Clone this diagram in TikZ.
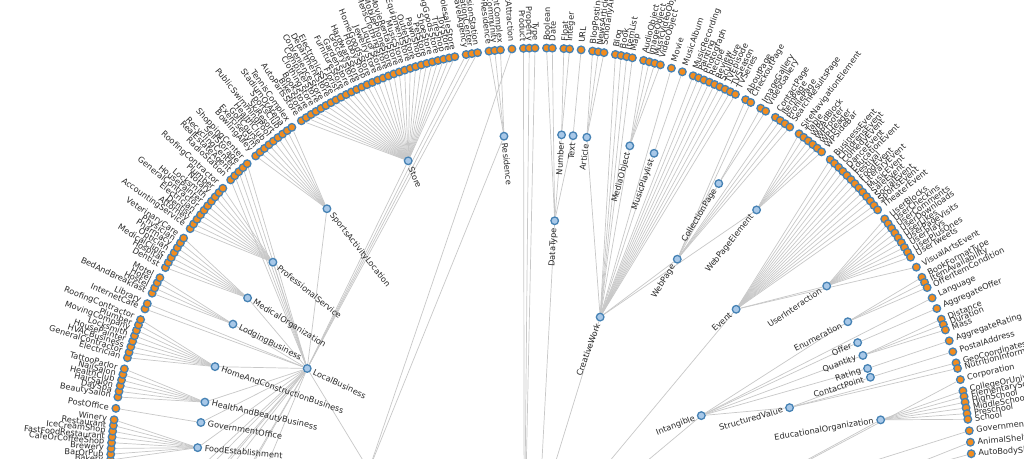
\documentclass[tikz,border=0pt]{standalone}
\usepackage{fontspec}
\setmainfont{DejaVu Sans}
\usetikzlibrary{calc}
\pgfdeclarelayer{back}
\pgfdeclarelayer{bg}
\pgfsetlayers{back,bg,main}
\definecolor{leafc}{HTML}{F28C1E}
\definecolor{strokec}{HTML}{4682B4}
\definecolor{innerc}{HTML}{A8C8E8}
\definecolor{linkc}{HTML}{C8C8C8}
\definecolor{txtc}{HTML}{2A2A2A}
\def\uu{0.767}
\def\az{177.469}
\tikzset{
  leafdot/.style={circle,fill=leafc,draw=strokec,line width=1.3pt,minimum size=7.6pt,inner sep=0pt},
  innerdot/.style={circle,fill=innerc,draw=strokec,line width=1.3pt,minimum size=7.6pt,inner sep=0pt},
  lbl/.style={font=\fontsize{8.2}{9}\selectfont,text=txtc,inner sep=0pt},
  link/.style={draw=linkc,line width=0.7pt},
}
\newcommand\leafat[3]{%
  \pgfmathsetmacro\myang{\az-\uu*#1}%
  \pgfmathsetmacro\myrot{\myang-180}%
  \node[leafdot] (L#1) at (\myang:431) {};%
  \ifdim\myang pt>90pt
    \node[lbl,anchor=east,rotate=\myrot] (T#1) at (\myang:438) {#2};%
  \else
    \node[lbl,anchor=west,rotate=\myang] (T#1) at (\myang:438) {#2};%
  \fi
  \begin{pgfonlayer}{bg}\draw[link] (#3) -- (L#1);\end{pgfonlayer}%
}
\newcommand\leafgroup[3]{\foreach \lab [count=\kk from #1] in {#3} {\leafat{\kk}{\lab}{#2}}}
\newcommand\innode[4]{%
  \pgfmathsetmacro\myang{\az-\uu*#2}%
  \pgfmathsetmacro\myrot{\myang-180}%
  \pgfmathsetmacro\myrr{#3-7}%
  \node[innerdot] (#1) at (\myang:#3) {};%
  \ifdim\myang pt>90pt
    \node[lbl,anchor=west,rotate=\myrot] (#1-t) at (\myang:\myrr) {#4};%
  \else
    \node[lbl,anchor=east,rotate=\myang] (#1-t) at (\myang:\myrr) {#4};%
  \fi
}
\begin{document}
\begin{tikzpicture}[x=1pt,y=1pt]
\useasboundingbox (0,0) rectangle (1024,458);
\begin{pgfonlayer}{back}\fill[white] (0,0) rectangle (1024,458);\end{pgfonlayer}
\clip (0,0) rectangle (1024,458);
\begin{scope}[shift={(541,-21)}]
% off-picture ancestors
\coordinate (root) at (0,0);
\coordinate (thing) at (-101.2:86.2);
\coordinate (place) at (177:172.4);
\coordinate (org) at (-11.2:172.4);
\coordinate (lbtwo) at (-7.1:258.6);
\coordinate (auto) at (0.29:344.8);
\foreach \kq/\rq [count=\i] in {-3.5/344.8,-10/344.8,-15/431,-18/344.8,-21/431,-22/431,-28/344.8,-34/431}
  {\coordinate (lbx\i) at ({\az-\uu*(\kq)}:\rq);}
% inner nodes
\innode{food}{3.5}{344.8}{FoodEstablishment}
\innode{govoff}{9}{344.8}{GovernmentOffice}
\innode{health}{13.5}{344.8}{HealthAndBeautyBusiness}
\innode{home}{21.5}{344.8}{HomeAndConstructionBusiness}
\innode{lodging}{31.5}{344.8}{LodgingBusiness}
\innode{medical}{38}{344.8}{MedicalOrganization}
\innode{prof}{47.5}{344.8}{ProfessionalService}
\innode{sports}{64}{344.8}{SportsActivityLocation}
\innode{store}{84.5}{344.8}{Store}
\innode{localbiz}{29.69}{258.6}{LocalBusiness}
\innode{residence}{106}{344.8}{Residence}
\innode{datatype}{118}{258.6}{DataType}
\innode{number}{118.5}{344.8}{Number}
\innode{text}{121}{344.8}{Text}
\innode{article}{124}{344.8}{Article}
\innode{mediaobj}{133.5}{344.8}{MediaObject}
\innode{playlist}{139}{344.8}{MusicPlaylist}
\innode{collection}{154.5}{344.8}{CollectionPage}
\innode{webpage}{155.5}{258.6}{WebPage}
\innode{wpelement}{164.5}{344.8}{WebPageElement}
\innode{creative}{140.2}{172.4}{CreativeWork}
\innode{userint}{187}{344.8}{UserInteraction}
\innode{event}{177.9}{258.6}{Event}
\innode{enumeration}{196}{344.8}{Enumeration}
\innode{offer}{201}{344.8}{Offer}
\innode{quantity}{204}{344.8}{Quantity}
\innode{rating}{207}{344.8}{Rating}
\innode{contact}{209}{344.8}{ContactPoint}
\innode{structured}{210.5}{258.6}{StructuredValue}
\innode{intangible}{203.25}{172.4}{Intangible}
\innode{eduorg}{218.5}{344.8}{EducationalOrganization}
% leaves
\leafgroup{0}{food}{Bakery,BarOrPub,Brewery,CafeOrCoffeeShop,FastFoodRestaurant,IceCreamShop,Restaurant,Winery}
\leafgroup{9}{govoff}{PostOffice}
\leafgroup{11}{health}{BeautySalon,DaySpa,HairSalon,HealthClub,NailSalon,TattooParlor}
\leafgroup{18}{home}{Electrician,GeneralContractor,HVACBusiness,HousePainter,Locksmith,MovingCompany,Plumber,RoofingContractor}
\leafgroup{27}{localbiz}{InternetCafe,Library}
\leafgroup{30}{lodging}{BedAndBreakfast,Hostel,Hotel,Motel}
\leafgroup{35}{medical}{Dentist,Hospital,MedicalClinic,Optician,Pharmacy,Physician,VeterinaryCare}
\leafgroup{43}{prof}{AccountingService,Attorney,Dentist,Electrician,GeneralContractor,HousePainter,Locksmith,Notary,Plumber,RoofingContractor}
\leafgroup{54}{localbiz}{RadioStation,RealEstateAgent,RecyclingCenter,SelfStorage,ShoppingCenter}
\leafgroup{60}{sports}{BowlingAlley,ExerciseGym,GolfCourse,HealthClub,PublicSwimmingPool,SkiResort,SportsClub,StadiumOrArena,TennisComplex}
\leafgroup{70}{store}{AutoPartsStore,BikeStore,BookStore,ClothingStore,ComputerStore,ConvenienceStore,DepartmentStore,ElectronicsStore,Florist,FurnitureStore,GardenStore,GroceryStore,HardwareStore,HobbyShop,HomeGoodsStore,JewelryStore,LiquorStore,MensClothingStore,MobilePhoneStore,MovieRentalStore,MusicStore,OfficeEquipmentStore,OutletStore,PawnShop,PetStore,ShoeStore,SportingGoodsStore,TireShop,ToyStore,WholesaleStore}
\leafgroup{101}{localbiz}{TravelAgency,TouristInformationCenter,TelevisionStation}
\leafgroup{105}{residence}{SingleFamilyResidence,GatedResidenceCommunity,ApartmentComplex}
\leafgroup{109}{place}{TouristAttraction}
\leafgroup{111}{thing}{Product,Property,Type}
\leafgroup{115}{datatype}{Boolean,Date}
\leafgroup{118}{number}{Float,Integer}
\leafgroup{121}{text}{URL}
\leafgroup{123}{article}{BlogPosting,NewsArticle,ScholarlyArticle}
\leafgroup{127}{creative}{Blog,Book,ItemList,Map}
\leafgroup{132}{mediaobj}{AudioObject,ImageObject,MusicVideoObject,VideoObject}
\leafgroup{137}{creative}{Movie}
\leafgroup{139}{playlist}{MusicAlbum}
\leafgroup{141}{creative}{MusicRecording,Painting,Photograph,Recipe,Review,Sculpture,TVEpisode,TVSeason,TVSeries}
\leafgroup{151}{webpage}{AboutPage,CheckoutPage}
\leafgroup{154}{collection}{ImageGallery,VideoGallery}
\leafgroup{157}{webpage}{ContactPage,ItemPage,ProfilePage,SearchResultsPage}
\leafgroup{162}{wpelement}{SiteNavigationElement,Table,WPAdBlock,WPFooter,WPHeader,WPSideBar}
\leafgroup{169}{event}{BusinessEvent,ChildrensEvent,ComedyEvent,DanceEvent,EducationEvent,Festival,FoodEvent,LiteraryEvent,MusicEvent,SaleEvent,SocialEvent,SportsEvent,TheaterEvent}
\leafgroup{183}{userint}{UserBlocks,UserCheckins,UserComments,UserDownloads,UserLikes,UserPageVisits,UserPlays,UserPlusOnes,UserTweets}
\leafgroup{193}{event}{VisualArtsEvent}
\leafgroup{195}{enumeration}{BookFormatType,ItemAvailability,OfferItemCondition}
\leafgroup{199}{intangible}{Language}
\leafgroup{201}{offer}{AggregateOffer}
\leafgroup{203}{quantity}{Distance,Duration,Mass}
\leafgroup{207}{rating}{AggregateRating}
\leafgroup{209}{contact}{PostalAddress}
\leafgroup{211}{structured}{GeoCoordinates,NutritionInformation}
\leafgroup{214}{org}{Corporation}
\leafgroup{216}{eduorg}{CollegeOrUniversity,ElementarySchool,HighSchool,MiddleSchool,Preschool,School}
\leafgroup{223}{org}{GovernmentOrganization}
\leafgroup{225}{lbtwo}{AnimalShelter}
\leafgroup{227}{auto}{AutoBodyShop}
% links between inner nodes
\begin{pgfonlayer}{bg}
\foreach \c in {food,govoff,health,home,lodging,medical,prof,sports,store,lbx1,lbx2,lbx3,lbx4,lbx5,lbx6,lbx7,lbx8}
  {\draw[link] (\c) -- (localbiz);}
\draw[link] (localbiz) -- (place);
\draw[link] (residence) -- (place);
\draw[link] (number) -- (datatype);
\draw[link] (text) -- (datatype);
\draw[link] (datatype) -- (root);
\foreach \c in {article,mediaobj,playlist,webpage,wpelement}
  {\draw[link] (\c) -- (creative);}
\draw[link] (collection) -- (webpage);
\foreach \c in {creative,event,intangible}
  {\draw[link] (\c) -- (thing);}
\draw[link] (userint) -- (event);
\foreach \c in {enumeration,offer,quantity,rating,structured}
  {\draw[link] (\c) -- (intangible);}
\draw[link] (contact) -- (structured);
\draw[link] (eduorg) -- (org);
\draw[link] (lbtwo) -- (org);
\draw[link] (auto) -- (lbtwo);
\draw[link] (org) -- (thing);
\draw[link] (place) -- (thing);
\draw[link] (thing) -- (root);
\end{pgfonlayer}
\end{scope}
\end{tikzpicture}
\end{document}
